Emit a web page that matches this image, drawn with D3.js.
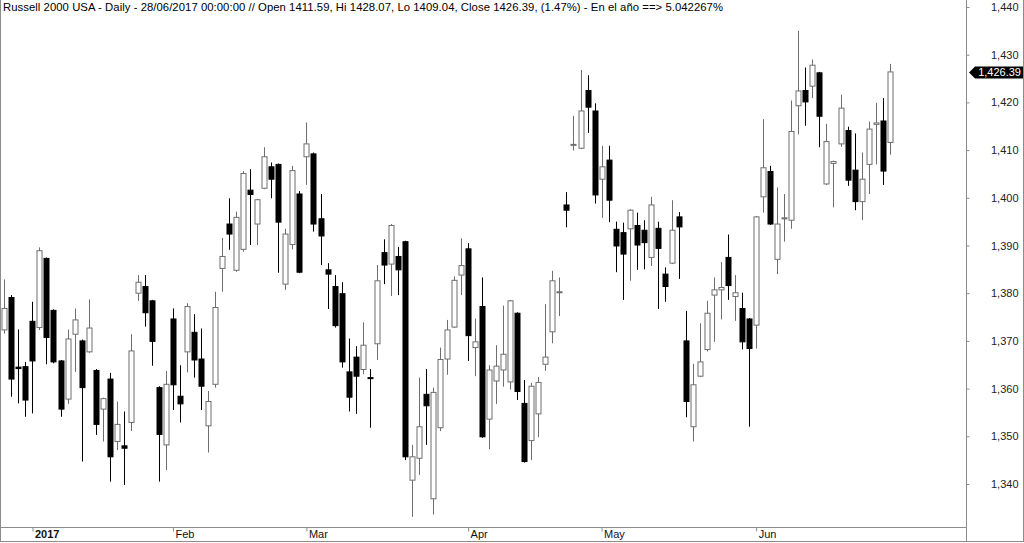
<!DOCTYPE html>
<html><head><meta charset="utf-8">
<script src="https://cdn.jsdelivr.net/npm/d3@7"></script>
<style>
html,body{margin:0;padding:0;background:#fff;}
svg{display:block;font-family:"Liberation Sans",Arial,sans-serif;}
</style></head>
<body>
<svg id="chart" width="1024" height="543"></svg>
<script>
const dates = [
"2016-12-27","2016-12-28","2016-12-29","2016-12-30",
"2017-01-03","2017-01-04","2017-01-05","2017-01-06","2017-01-09","2017-01-10","2017-01-11","2017-01-12","2017-01-13","2017-01-17","2017-01-18","2017-01-19","2017-01-20","2017-01-23","2017-01-24","2017-01-25","2017-01-26","2017-01-27","2017-01-30","2017-01-31",
"2017-02-01","2017-02-02","2017-02-03","2017-02-06","2017-02-07","2017-02-08","2017-02-09","2017-02-10","2017-02-13","2017-02-14","2017-02-15","2017-02-16","2017-02-17","2017-02-21","2017-02-22","2017-02-23","2017-02-24","2017-02-27","2017-02-28",
"2017-03-01","2017-03-02","2017-03-03","2017-03-06","2017-03-07","2017-03-08","2017-03-09","2017-03-10","2017-03-13","2017-03-14","2017-03-15","2017-03-16","2017-03-17","2017-03-20","2017-03-21","2017-03-22","2017-03-23","2017-03-24","2017-03-27","2017-03-28","2017-03-29","2017-03-30","2017-03-31",
"2017-04-03","2017-04-04","2017-04-05","2017-04-06","2017-04-07","2017-04-10","2017-04-11","2017-04-12","2017-04-13","2017-04-17","2017-04-18","2017-04-19","2017-04-20","2017-04-21","2017-04-24","2017-04-25","2017-04-26","2017-04-27","2017-04-28",
"2017-05-01","2017-05-02","2017-05-03","2017-05-04","2017-05-05","2017-05-08","2017-05-09","2017-05-10","2017-05-11","2017-05-12","2017-05-15","2017-05-16","2017-05-17","2017-05-18","2017-05-19","2017-05-22","2017-05-23","2017-05-24","2017-05-25","2017-05-26","2017-05-30","2017-05-31",
"2017-06-01","2017-06-02","2017-06-05","2017-06-06","2017-06-07","2017-06-08","2017-06-09","2017-06-12","2017-06-13","2017-06-14","2017-06-15","2017-06-16","2017-06-19","2017-06-20","2017-06-21","2017-06-22","2017-06-23","2017-06-26","2017-06-27","2017-06-28"
];
const open = [1372.3,1379.1,1364.5,1364.6,1374.1,1372.8,1387.3,1376.4,1365.8,1357.8,1371.4,1370.0,1367.7,1363.8,1355.7,1362.0,1348.9,1348.0,1352.9,1380.0,1381.4,1378.4,1360.2,1348.2,
1374.6,1358.4,1367.7,1371.8,1366.2,1352.2,1360.9,1385.2,1394.5,1384.8,1389.2,1401.6,1394.5,1402.0,1406.5,1407.0,1381.9,1390.2,1400.8,
1408.6,1409.2,1395.6,1384.9,1381.4,1379.9,1363.5,1366.6,1364.0,1362.3,1369.4,1388.5,1386.1,1387.7,1390.8,1340.8,1345.4,1358.8,1336.9,1351.8,1366.2,1372.9,1383.8,
1389.3,1368.6,1377.2,1353.6,1361.6,1363.9,1361.4,1375.8,1356.9,1349.1,1354.7,1365.1,1371.9,1380.1,1398.5,1411.0,1410.4,1422.5,1418.2,
1403.9,1407.9,1393.4,1392.7,1393.5,1394.2,1393.2,1387.5,1393.6,1384.0,1386.3,1396.0,1370.0,1352.0,1362.6,1368.2,1379.6,1380.7,1387.5,1379.3,1376.8,1374.6,
1373.3,1400.2,1405.5,1387.1,1395.6,1395.3,1419.3,1422.5,1423.4,1426.2,1402.9,1407.2,1411.3,1414.1,1405.8,1399.2,1407.0,1415.4,1416.1,1411.59];
const high = [1382.9,1379.6,1372.4,1365.6,1378.2,1389.6,1387.5,1376.6,1366.0,1372.4,1376.8,1370.3,1378.7,1364.1,1358.1,1363.3,1357.3,1355.2,1371.4,1383.8,1383.8,1378.6,1360.5,1363.7,
1376.8,1364.9,1377.9,1375.6,1372.6,1359.5,1380.3,1391.6,1399.9,1397.1,1405.6,1406.0,1399.8,1410.6,1407.4,1407.2,1393.5,1406.7,1401.4,
1415.8,1409.5,1400.8,1386.3,1383.8,1382.3,1370.5,1368.9,1373.9,1364.1,1385.9,1391.3,1394.5,1389.7,1391.0,1348.2,1362.3,1364.1,1360.2,1368.6,1374.4,1383.5,1391.5,
1390.5,1374.7,1383.3,1364.9,1369.1,1377.4,1378.6,1376.0,1361.8,1361.2,1362.4,1377.7,1384.7,1383.3,1401.2,1417.2,1426.8,1425.7,1419.8,
1410.9,1410.9,1395.0,1394.8,1397.6,1396.9,1395.3,1400.2,1395.0,1385.4,1399.5,1397.0,1376.3,1365.2,1373.7,1378.4,1383.3,1386.5,1392.3,1383.8,1380.1,1374.8,
1396.2,1416.5,1406.7,1402.2,1400.8,1420.4,1435.0,1427.3,1429.0,1426.4,1415.5,1407.8,1421.6,1414.9,1413.5,1409.5,1416.0,1419.9,1420.9,1428.07];
const low = [1371.5,1358.3,1356.9,1354.1,1354.8,1372.3,1365.1,1365.3,1354.1,1356.8,1363.5,1344.7,1367.5,1350.3,1348.9,1340.5,1347.1,1339.8,1351.1,1378.4,1373.0,1364.8,1340.5,1342.9,
1355.5,1352.9,1363.4,1362.3,1355.5,1346.6,1360.2,1380.3,1389.1,1384.5,1388.7,1390.1,1390.1,1401.8,1399.9,1384.3,1380.7,1389.2,1384.2,
1402.7,1392.9,1385.9,1376.7,1372.8,1364.4,1355.2,1354.7,1363.0,1351.8,1366.0,1381.9,1379.4,1379.6,1345.0,1333.1,1341.9,1348.2,1333.6,1351.1,1362.9,1372.7,1379.6,
1365.8,1362.6,1349.7,1347.3,1356.8,1360.4,1359.8,1357.6,1344.5,1345.0,1349.8,1363.7,1369.5,1375.2,1393.8,1409.9,1410.2,1413.6,1398.8,
1395.8,1394.9,1384.4,1378.6,1382.6,1384.9,1385.0,1385.7,1376.7,1378.2,1386.1,1383.0,1354.0,1348.9,1362.4,1367.8,1369.8,1374.5,1378.6,1374.2,1368.2,1352.0,
1368.4,1396.9,1394.3,1384.0,1390.8,1393.5,1413.3,1415.1,1420.9,1410.6,1402.7,1398.0,1410.7,1402.5,1397.4,1395.3,1400.8,1407.0,1402.7,1409.04];
const close = [1376.8,1362.0,1364.2,1357.6,1365.8,1388.9,1370.7,1365.6,1355.7,1370.4,1374.4,1360.2,1372.7,1352.5,1357.9,1345.7,1352.5,1347.5,1367.9,1382.3,1375.9,1369.9,1350.4,1360.9,
1360.8,1356.8,1377.2,1366.0,1360.5,1357.3,1377.0,1387.7,1392.4,1395.9,1405.1,1400.7,1399.6,1408.6,1403.9,1394.9,1392.4,1405.7,1384.4,
1411.3,1394.5,1392.0,1384.0,1373.2,1365.6,1358.2,1362.6,1369.1,1362.1,1382.6,1385.9,1394.2,1384.9,1345.7,1345.7,1352.0,1356.4,1359.2,1366.1,1372.3,1382.7,1385.8,
1371.1,1369.8,1349.9,1363.9,1364.7,1367.2,1378.4,1359.4,1344.7,1360.5,1361.3,1366.6,1382.6,1380.3,1397.4,1411.2,1418.2,1419.0,1400.6,
1406.5,1399.5,1389.9,1388.2,1397.4,1390.1,1390.6,1398.5,1389.4,1381.4,1393.2,1393.9,1357.3,1360.8,1365.6,1375.8,1380.7,1381.2,1381.6,1380.1,1369.8,1368.4,
1396.0,1406.3,1394.5,1394.5,1395.8,1413.9,1422.4,1420.1,1427.8,1417.1,1411.8,1407.6,1418.8,1403.7,1399.2,1403.9,1414.4,1415.7,1405.6,1426.39];
const priceTicks = [1340,1350,1360,1370,1380,1390,1400,1410,1420,1430,1440];
const monthTicks = ["2017-01-03","2017-02-01","2017-03-01","2017-04-03","2017-05-01","2017-06-01"];
const monthLabels = ["2017","Feb","Mar","Apr","May","Jun"];
const titleText = "Russell 2000 USA - Daily - 28/06/2017 00:00:00 // Open 1411.59, Hi 1428.07, Lo 1409.04, Close 1426.39, (1.47%) - En el año ==> 5.042267%";
const lastLabel = "1,426.39";

const svg = d3.select("#chart");
const W = 1024, H = 543;
const plotRight = 966.5, axisY = 527.5;

const x = d3.scalePoint().domain(dates).range([4.3, 889.7]);
const y = d3.scaleLinear().domain([1340, 1440]).range([484, 7]);

svg.append("rect").attr("width", W).attr("height", H).attr("fill", "#fff");

const data = dates.map((d, i) => ({d, o: open[i], h: high[i], l: low[i], c: close[i]}));

const g = svg.append("g");
const candles = g.selectAll("g.c").data(data).join("g").attr("class", "c");
candles.append("line")
  .attr("x1", d => Math.round(x(d.d)) + 0.5)
  .attr("x2", d => Math.round(x(d.d)) + 0.5)
  .attr("y1", d => y(d.h))
  .attr("y2", d => y(d.l))
  .attr("stroke", d => d.c >= d.o ? "#6e6e6e" : "#000")
  .attr("stroke-width", 1);
candles.append("rect")
  .attr("x", d => Math.round(x(d.d)) - 2)
  .attr("width", 5)
  .attr("y", d => Math.min(y(d.o), y(d.c)))
  .attr("height", d => Math.max(1, Math.abs(y(d.o) - y(d.c))))
  .attr("fill", d => d.c >= d.o ? "#fff" : "#000")
  .attr("stroke", d => d.c >= d.o ? "#6e6e6e" : "#000")
  .attr("stroke-width", 1);

// frame
const frame = svg.append("g").attr("stroke", "#8c8c8c").attr("stroke-width", 1).attr("fill", "none");
frame.append("line").attr("x1", 0.5).attr("x2", 0.5).attr("y1", 0).attr("y2", 542);
frame.append("line").attr("x1", plotRight).attr("x2", plotRight).attr("y1", 0).attr("y2", 542);
frame.append("line").attr("x1", 0).attr("x2", plotRight).attr("y1", axisY).attr("y2", axisY);
frame.append("line").attr("x1", 0).attr("x2", W).attr("y1", 541.5).attr("y2", 541.5);
frame.append("line").attr("x1", 1023.5).attr("x2", 1023.5).attr("y1", 0).attr("y2", 542);

// right axis
const yAxis = d3.axisRight(y).tickValues(priceTicks).tickSize(3).tickPadding(22).tickFormat(d3.format(","));
const ya = svg.append("g").attr("transform", `translate(${plotRight},0)`).call(yAxis);
ya.select(".domain").remove();
ya.selectAll(".tick line").attr("stroke", "#8c8c8c");
ya.selectAll(".tick text").attr("fill", "#222").attr("font-size", 11)
  .attr("font-family", "'Liberation Sans',Arial,sans-serif").attr("text-anchor", "end").attr("x", 52);

// bottom axis
const xAxis = d3.axisBottom(x).tickValues(monthTicks).tickSize(4).tickPadding(1)
  .tickFormat((d, i) => monthLabels[i]);
const xa = svg.append("g").attr("transform", `translate(0,${axisY})`).call(xAxis);
xa.select(".domain").remove();
xa.selectAll(".tick line").attr("stroke", "#8c8c8c");
xa.selectAll(".tick text").attr("fill", "#111").attr("font-size", 11)
  .attr("font-family", "'Liberation Sans',Arial,sans-serif")
  .attr("text-anchor", "start").attr("x", 2).attr("dy", "0.5em")
  .attr("font-weight", (d, i) => i === 0 ? "bold" : "normal");

// last price tag
const ly = Math.round(y(close[close.length - 1])) + 0.5;
svg.append("path")
  .attr("d", `M969,${ly} L975,${ly - 6} L1023,${ly - 6} L1023,${ly + 6} L975,${ly + 6} Z`)
  .attr("fill", "#000");
svg.append("text").attr("x", 1021).attr("y", ly).attr("dy", "0.35em")
  .attr("text-anchor", "end").attr("fill", "#fff").attr("font-size", 11).text(lastLabel);

// title
svg.append("text").attr("x", 3).attr("y", 7).attr("dy", "0.35em")
  .attr("fill", "#000").attr("font-size", 11.3)
  .attr("textLength", 720).attr("lengthAdjust", "spacing").text(titleText);
</script>
</body></html>
